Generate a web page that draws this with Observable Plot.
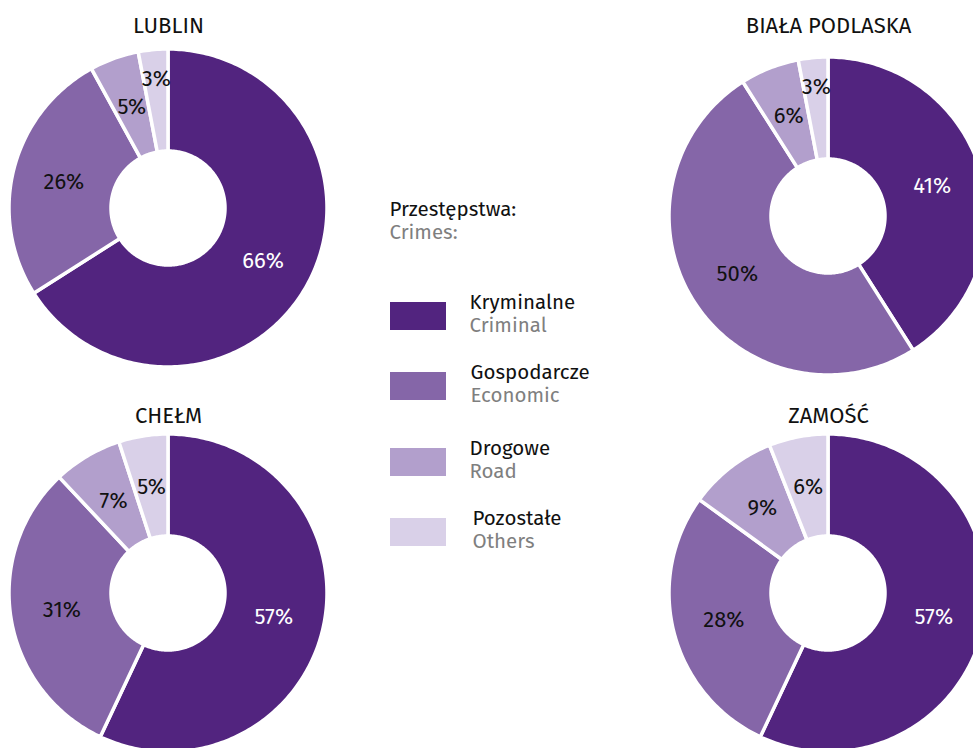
<!DOCTYPE html>
<html>
<head>
<meta charset="utf-8">
<script src="https://cdn.jsdelivr.net/npm/d3@7"></script>
<script src="https://cdn.jsdelivr.net/npm/@observablehq/plot@0.6"></script>
<style>
  html, body { margin: 0; padding: 0; background: #fff; }
  #chart svg { display: block; }
</style>
</head>
<body>
<div id="chart"></div>
<script>
// ---- data ----
const cities = ["LUBLIN", "BIAŁA PODLASKA", "CHEŁM", "ZAMOŚĆ"];
const categoriesPL = ["Kryminalne", "Gospodarcze", "Drogowe", "Pozostałe"];
const categoriesEN = ["Criminal", "Economic", "Road", "Others"];
const kryminalne = [66, 41, 57, 57];
const gospodarcze = [26, 50, 31, 28];
const drogowe = [5, 6, 7, 9];
const pozostale = [3, 3, 5, 6];
const legendTitlePL = "Przestępstwa:";
const legendTitleEN = "Crimes:";

// ---- style / layout ----
const colors = ["#52247f", "#8566a8", "#b29fcc", "#d9d0e8"];
const W = 973, H = 748;
const centers = [[168, 208], [828, 216], [168, 593], [828, 593]];
const titleY = [25, 25, 415, 415];
const R = 159, R0 = 57, LABEL_R = 108, LABEL_R_SMALL = 130;
const FONT = "'Fira Sans', 'Open Sans', 'Noto Sans', sans-serif";
const FS = 22, LFS = 20.5;

const series = [kryminalne, gospodarcze, drogowe, pozostale];

const arcRows = [];
const labelRows = [];
cities.forEach((city, i) => {
  const vals = series.map(s => s[i]);
  const total = d3.sum(vals);
  const [cx, cy] = centers[i];
  let cum = 0;
  vals.forEach((v, j) => {
    const a0 = 2 * Math.PI * cum / total;
    cum += v;
    const a1 = 2 * Math.PI * cum / total;
    const n = Math.max(2, Math.ceil((a1 - a0) / (Math.PI / 180)));
    for (let t = 0; t <= n; t++) {
      const th = a0 + (a1 - a0) * t / n;
      arcRows.push({
        key: i + "-" + j, cat: categoriesPL[j],
        x1: cx + R * Math.sin(th), y1: cy - R * Math.cos(th),
        x2: cx + R0 * Math.sin(th), y2: cy - R0 * Math.cos(th)
      });
    }
    const am = (a0 + a1) / 2;
    const lr = v <= 3 ? LABEL_R_SMALL : LABEL_R;
    labelRows.push({j, text: v + "%", x: cx + lr * Math.sin(am), y: cy - lr * Math.cos(am)});
  });
});

const titleRows = cities.map((c, i) => ({text: c, x: centers[i][0], y: titleY[i]}));

// legend
const swTop = [302, 372, 448, 518];
const textX = [469, 470, 469, 472];
const legendRows = categoriesPL.map((c, j) => ({
  cat: c, en: categoriesEN[j],
  x1: 390, x2: 446, y1: swTop[j], y2: swTop[j] + 28,
  tx: textX[j], ty: swTop[j], ety: swTop[j] + 23
}));

const plot = Plot.plot({
  width: W, height: H, margin: 0,
  style: {fontFamily: FONT, background: "white"},
  x: {domain: [0, W], range: [0, W], axis: null},
  y: {domain: [0, H], range: [0, H], axis: null},
  color: {domain: categoriesPL, range: colors},
  marks: [
    Plot.area(arcRows, {x1: "x1", y1: "y1", x2: "x2", y2: "y2", z: "key", fill: "cat", stroke: "white", strokeWidth: 3.5}),
    Plot.text(labelRows.filter(d => d.j === 0), {x: "x", y: "y", text: "text", fill: "white", fontSize: FS, fontFamily: FONT}),
    Plot.text(labelRows.filter(d => d.j !== 0), {x: "x", y: "y", text: "text", fill: "#111", fontSize: FS, fontFamily: FONT}),
    Plot.text(titleRows, {x: "x", y: "y", text: "text", fill: "#111", fontSize: FS, fontFamily: FONT}),
    Plot.text([legendTitlePL], {x: 389, y: 209, text: d => d, textAnchor: "start", fill: "#111", fontSize: LFS, fontFamily: FONT}),
    Plot.text([legendTitleEN], {x: 389, y: 232, text: d => d, textAnchor: "start", fill: "#7f7f7f", fontSize: LFS, fontFamily: FONT}),
    Plot.rect(legendRows, {x1: "x1", x2: "x2", y1: "y1", y2: "y2", fill: "cat"}),
    Plot.text(legendRows, {x: "tx", y: "ty", text: "cat", textAnchor: "start", fill: "#111", fontSize: LFS, fontFamily: FONT}),
    Plot.text(legendRows, {x: "tx", y: "ety", text: "en", textAnchor: "start", fill: "#7f7f7f", fontSize: LFS, fontFamily: FONT})
  ]
});
document.getElementById("chart").appendChild(plot);
</script>
</body>
</html>
